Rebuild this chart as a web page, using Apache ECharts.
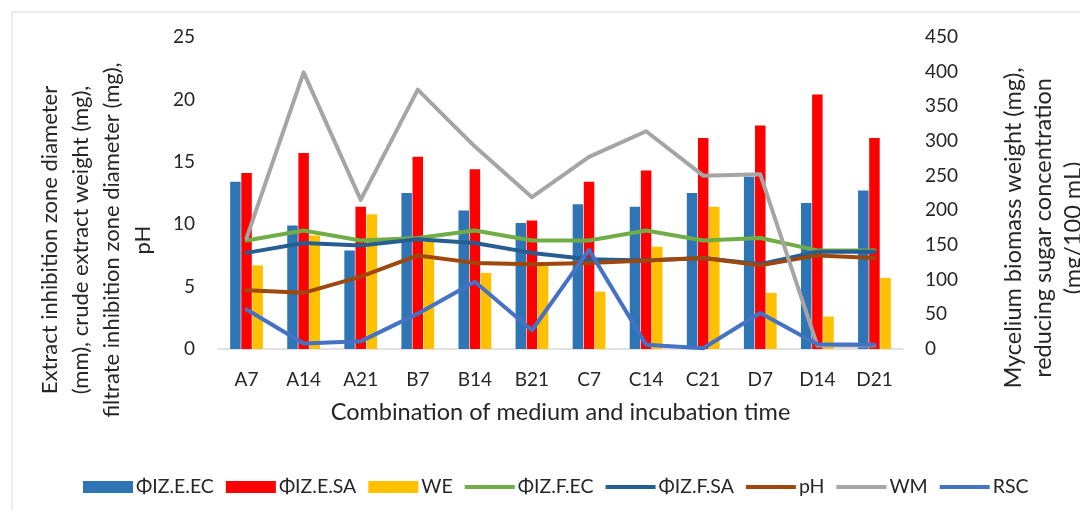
<!DOCTYPE html>
<html>
<head>
<meta charset="utf-8">
<script src="https://cdn.jsdelivr.net/npm/echarts@6/dist/echarts.min.js"></script>
<style>
  html, body { margin: 0; padding: 0; background: #ffffff; }
  #chart { width: 1080px; height: 511px; }
</style>
</head>
<body>
<div id="chart"></div>
<script>
// Medium / incubation-time combinations
const categories = ['A7', 'A14', 'A21', 'B7', 'B14', 'B21', 'C7', 'C14', 'C21', 'D7', 'D14', 'D21'];

// Left axis: inhibition zones (mm), crude extract weight (mg), pH
const izEEC = [13.4, 9.9, 7.9, 12.5, 11.1, 10.1, 11.6, 11.4, 12.5, 13.8, 11.7, 12.7];
const izESA = [14.1, 15.7, 11.4, 15.4, 14.4, 10.3, 13.4, 14.3, 16.9, 17.9, 20.4, 16.9];
const we    = [6.7, 9.1, 10.8, 8.6, 6.1, 6.7, 4.6, 8.2, 11.4, 4.5, 2.6, 5.7];
const izFEC = [8.7, 9.5, 8.7, 8.9, 9.5, 8.7, 8.7, 9.5, 8.7, 8.9, 7.9, 7.9];
const izFSA = [7.7, 8.5, 8.3, 8.8, 8.5, 7.7, 7.2, 7.1, 7.3, 6.8, 7.8, 7.8];
const pH    = [4.7, 4.5, 5.8, 7.5, 6.9, 6.8, 6.9, 7.1, 7.3, 6.7, 7.5, 7.3];

// Right axis: mycelium biomass (mg), reducing sugar (mg/100 mL)
const wm  = [160, 399, 215, 374, 292, 219, 277, 314, 250, 252, 5, 5];
const rsc = [57, 8, 11, 51, 97, 27, 143, 6, 1, 52, 7, 6];

const FONT = 'Lato';
const TXT = '#262626';

// Legend swatch for line series: a 4px stroke centred in a 50x12 box
const LINE_ICON = 'path://M0,0L0,0M0,12L0,12M0,4L50,4L50,8L0,8Z';

const chart = echarts.init(document.getElementById('chart'), null, { renderer: 'canvas' });

function bar(name, data, color) {
  return {
    name, type: 'bar', yAxisIndex: 0, data,
    barWidth: 10.5, barGap: '6%',
    itemStyle: { color },
    z: 2
  };
}
function line(name, data, color, axis) {
  return {
    name, type: 'line', yAxisIndex: axis, data,
    symbol: 'none', showSymbol: false,
    lineStyle: { color, width: 4, cap: 'round', join: 'round' },
    itemStyle: { color },
    z: 3
  };
}

chart.setOption({
  animation: false,
  textStyle: { fontFamily: FONT },
  grid: { left: 218, right: 177, top: 37, bottom: 162 },
  graphic: [
    { type: 'rect', shape: { x: 12, y: 12, width: 1200, height: 600 },
      style: { fill: 'none', stroke: '#d9d9d9', lineWidth: 1 }, silent: true },
    { type: 'text', x: 96, y: 240, rotation: Math.PI / 2,
      style: { text: 'Extract inhibition zone diameter\n(mm), crude extract weight (mg),\nfiltrate inhibition zone diameter (mg),\npH',
        font: '22px ' + FONT, fill: TXT, align: 'center', verticalAlign: 'middle', lineHeight: 31 } },
    { type: 'text', x: 1043, y: 228, rotation: Math.PI / 2,
      style: { text: 'Mycelium biomass weight (mg),\nreducing sugar concentration\n(mg/100 mL)',
        font: '23.5px ' + FONT, fill: TXT, align: 'center', verticalAlign: 'middle', lineHeight: 30 } }
  ],
  legend: {
    left: 78, top: 472,
    itemWidth: 50, itemHeight: 12, itemGap: 12,
    textStyle: { fontFamily: FONT, fontSize: 19.5, color: TXT, padding: [0, 0, 0, -2] },
    data: [
      { name: 'ΦIZ.E.EC', icon: 'rect' },
      { name: 'ΦIZ.E.SA', icon: 'rect' },
      { name: 'WE', icon: 'rect' },
      { name: 'ΦIZ.F.EC', icon: LINE_ICON },
      { name: 'ΦIZ.F.SA', icon: LINE_ICON },
      { name: 'pH', icon: LINE_ICON },
      { name: 'WM', icon: LINE_ICON },
      { name: 'RSC', icon: LINE_ICON }
    ]
  },
  xAxis: {
    type: 'category', data: categories,
    axisLine: { lineStyle: { color: '#d9d9d9', width: 1.5 } },
    axisTick: { show: false },
    axisLabel: { color: TXT, fontSize: 19, margin: 21 },
    name: 'Combination of medium and incubation time',
    nameLocation: 'middle', nameGap: 51,
    nameTextStyle: { color: TXT, fontSize: 23.5 }
  },
  yAxis: [
    { type: 'value', min: 0, max: 25, interval: 5,
      splitLine: { show: false }, axisLine: { show: false }, axisTick: { show: false },
      axisLabel: { color: TXT, fontSize: 19, margin: 23 } },
    { type: 'value', min: 0, max: 450, interval: 50,
      splitLine: { show: false }, axisLine: { show: false }, axisTick: { show: false },
      axisLabel: { color: TXT, fontSize: 19, margin: 22 } }
  ],
  series: [
    bar('ΦIZ.E.EC', izEEC, '#2E75B6'),
    bar('ΦIZ.E.SA', izESA, '#FF0000'),
    bar('WE', we, '#FFC000'),
    line('ΦIZ.F.EC', izFEC, '#70AD47', 0),
    line('ΦIZ.F.SA', izFSA, '#255E91', 0),
    line('pH', pH, '#9E480E', 0),
    line('WM', wm, '#A5A5A5', 1),
    line('RSC', rsc, '#4472C4', 1)
  ]
});
</script>
</body>
</html>
